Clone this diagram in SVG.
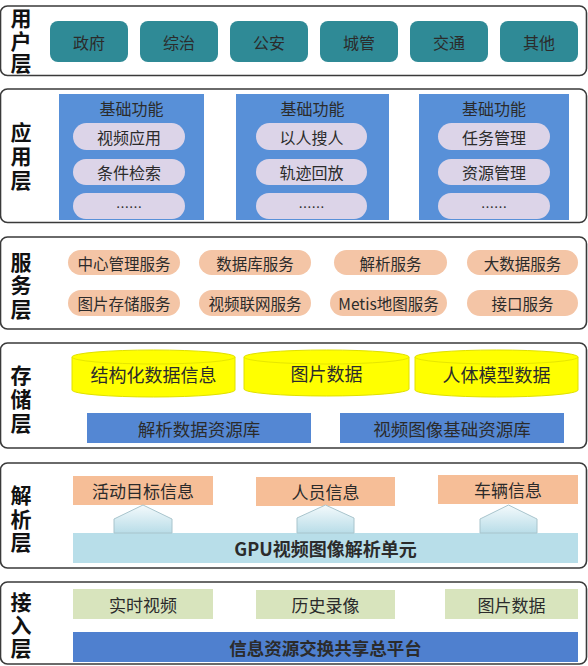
<svg xmlns="http://www.w3.org/2000/svg" width="588" height="666" viewBox="0 0 588 666">
<defs>
<linearGradient id="arr" x1="0" y1="0" x2="0" y2="1">
<stop offset="0" stop-color="#f4fafc"/>
<stop offset="1" stop-color="#b9dde8"/>
</linearGradient>
<style>
.layer{fill:#fff;stroke:#3a3a3a;stroke-width:1.6}
.lbl{font-family:"Noto Sans CJK SC","Noto Sans",sans-serif;font-size:21px;font-weight:bold;fill:#111;text-anchor:middle;writing-mode:vertical-rl}
.t{font-family:"Noto Sans CJK SC","Noto Sans",sans-serif;fill:#2b2b2b;text-anchor:middle;dominant-baseline:central}
.user{fill:#2f8a96}
.panel{fill:#5890d8}
.pill{fill:#dcd4e8}
.svc{fill:#f4c5a6}
.cyl{fill:#ffff00;stroke:#e0e000;stroke-width:1}
.sbar{fill:#5487d3}
.ana{fill:#f6be97}
.gpu{fill:#b8dee9}
.acc{fill:#d8e4bd}
.plat{fill:#4f80cf}
.arrow{fill:url(#arr);stroke:#a8c4cc;stroke-width:1}
</style>
</defs>

<g id="layer-user">
<rect class="layer" x="0.5" y="6" width="586" height="69.5" rx="7"/>
<text class="lbl" x="21" y="41.5" letter-spacing="1.5">用户层</text>
</g>
<g id="user-zhengfu"><rect class="user" x="50" y="21" width="78" height="41" rx="8"/><text class="t" x="89" y="41.5" font-size="16" fill="#1b3a40">政府</text></g>
<g id="user-zongzhi"><rect class="user" x="140" y="21" width="78" height="41" rx="8"/><text class="t" x="179" y="41.5" font-size="16" fill="#1b3a40">综治</text></g>
<g id="user-gongan"><rect class="user" x="230" y="21" width="78" height="41" rx="8"/><text class="t" x="269" y="41.5" font-size="16" fill="#1b3a40">公安</text></g>
<g id="user-chengguan"><rect class="user" x="320" y="21" width="78" height="41" rx="8"/><text class="t" x="359" y="41.5" font-size="16" fill="#1b3a40">城管</text></g>
<g id="user-jiaotong"><rect class="user" x="410" y="21" width="78" height="41" rx="8"/><text class="t" x="449" y="41.5" font-size="16" fill="#1b3a40">交通</text></g>
<g id="user-qita"><rect class="user" x="500" y="21" width="78" height="41" rx="8"/><text class="t" x="539" y="41.5" font-size="16" fill="#1b3a40">其他</text></g>

<g id="layer-app">
<rect class="layer" x="0.5" y="89" width="586" height="133.5" rx="7"/>
<text class="lbl" x="21" y="157.5" letter-spacing="3">应用层</text>
</g>
<g id="app-panel-1">
<rect class="panel" x="59" y="94" width="145" height="126"/>
<text class="t" x="131.5" y="108" font-size="16" fill="#1e2f4a">基础功能</text>
<rect class="pill" x="73" y="123" width="112" height="27" rx="13.5"/><text class="t" x="129" y="136.5" font-size="16">视频应用</text>
<rect class="pill" x="73" y="159" width="112" height="26" rx="13"/><text class="t" x="129" y="172" font-size="16">条件检索</text>
<rect class="pill" x="73" y="193" width="112" height="26" rx="13"/><text class="t" x="129" y="206" font-size="13">……</text>
</g>
<g id="app-panel-2">
<rect class="panel" x="236" y="94" width="153" height="126"/>
<text class="t" x="312.5" y="108" font-size="16" fill="#1e2f4a">基础功能</text>
<rect class="pill" x="256" y="123" width="111" height="27" rx="13.5"/><text class="t" x="311.5" y="136.5" font-size="16">以人搜人</text>
<rect class="pill" x="256" y="159" width="111" height="26" rx="13"/><text class="t" x="311.5" y="172" font-size="16">轨迹回放</text>
<rect class="pill" x="256" y="193" width="111" height="26" rx="13"/><text class="t" x="311.5" y="206" font-size="13">……</text>
</g>
<g id="app-panel-3">
<rect class="panel" x="419" y="94" width="150" height="126"/>
<text class="t" x="494" y="108" font-size="16" fill="#1e2f4a">基础功能</text>
<rect class="pill" x="438" y="123" width="112" height="27" rx="13.5"/><text class="t" x="494" y="136.5" font-size="16">任务管理</text>
<rect class="pill" x="438" y="159" width="112" height="26" rx="13"/><text class="t" x="494" y="172" font-size="16">资源管理</text>
<rect class="pill" x="438" y="193" width="112" height="26" rx="13"/><text class="t" x="494" y="206" font-size="13">……</text>
</g>

<g id="layer-service">
<rect class="layer" x="0.5" y="237" width="586" height="92" rx="7"/>
<text class="lbl" x="21" y="286.5" letter-spacing="2.5">服务层</text>
</g>
<g id="svc-center"><rect class="svc" x="68" y="250" width="112" height="25" rx="12.5"/><text class="t" x="124" y="262.5" font-size="15.5">中心管理服务</text></g>
<g id="svc-db"><rect class="svc" x="199" y="250" width="112" height="25" rx="12.5"/><text class="t" x="255" y="262.5" font-size="15.5">数据库服务</text></g>
<g id="svc-parse"><rect class="svc" x="334" y="250" width="113" height="25" rx="12.5"/><text class="t" x="390.5" y="262.5" font-size="15.5">解析服务</text></g>
<g id="svc-bigdata"><rect class="svc" x="467" y="250" width="111" height="25" rx="12.5"/><text class="t" x="522.5" y="262.5" font-size="15.5">大数据服务</text></g>
<g id="svc-pic"><rect class="svc" x="68" y="290" width="112" height="26" rx="13"/><text class="t" x="124" y="303" font-size="15.5">图片存储服务</text></g>
<g id="svc-video"><rect class="svc" x="199" y="290" width="112" height="26" rx="13"/><text class="t" x="255" y="303" font-size="15.5">视频联网服务</text></g>
<g id="svc-metis"><rect class="svc" x="330" y="290" width="117" height="26" rx="13"/><text class="t" x="388.5" y="303" font-size="15.5">Metis地图服务</text></g>
<g id="svc-api"><rect class="svc" x="467" y="290" width="111" height="26" rx="13"/><text class="t" x="522.5" y="303" font-size="15.5">接口服务</text></g>

<g id="layer-storage">
<rect class="layer" x="0.5" y="343" width="586" height="105" rx="7"/>
<text class="lbl" x="21" y="400.5" letter-spacing="3">存储层</text>
</g>
<g id="store-struct">
<path class="cyl" d="M72,357 A81.5,7 0 0 1 235,357 V390 A81.5,7 0 0 1 72,390 Z"/>
<path d="M72,357 A81.5,7 0 0 0 235,357" fill="none" stroke="#e6e600" stroke-width="1"/>
<text class="t" x="153.5" y="374" font-size="18">结构化数据信息</text>
</g>
<g id="store-pic">
<path class="cyl" d="M244,357 A82.5,7 0 0 1 409,357 V389 A82.5,7 0 0 1 244,389 Z"/>
<path d="M244,357 A82.5,7 0 0 0 409,357" fill="none" stroke="#e6e600" stroke-width="1"/>
<text class="t" x="326.5" y="373" font-size="18">图片数据</text>
</g>
<g id="store-body">
<path class="cyl" d="M415,357 A81.5,7 0 0 1 578,357 V390 A81.5,7 0 0 1 415,390 Z"/>
<path d="M415,357 A81.5,7 0 0 0 578,357" fill="none" stroke="#e6e600" stroke-width="1"/>
<text class="t" x="496.5" y="374" font-size="18">人体模型数据</text>
</g>
<g id="store-parse-db"><rect class="sbar" x="87" y="413" width="224" height="30"/><text class="t" x="199" y="428" font-size="17.5" fill="#1e2f4a">解析数据资源库</text></g>
<g id="store-video-db"><rect class="sbar" x="340" y="413" width="224" height="30"/><text class="t" x="452" y="428" font-size="17.5" fill="#1e2f4a">视频图像基础资源库</text></g>

<g id="layer-analysis">
<rect class="layer" x="0.5" y="463" width="586" height="105" rx="7"/>
<text class="lbl" x="21" y="520" letter-spacing="2.5">解析层</text>
</g>
<g id="ana-target"><rect class="ana" x="73" y="476" width="140" height="29"/><text class="t" x="143" y="490.5" font-size="17">活动目标信息</text></g>
<g id="ana-person"><rect class="ana" x="256" y="477" width="139" height="29"/><text class="t" x="325.5" y="491.5" font-size="17">人员信息</text></g>
<g id="ana-vehicle"><rect class="ana" x="438" y="475" width="140" height="29"/><text class="t" x="508" y="489.5" font-size="17">车辆信息</text></g>
<g id="ana-gpu"><rect class="gpu" x="73" y="533" width="505" height="30"/><text class="t" x="325.5" y="548" font-size="18" font-weight="bold" fill="#1c1c1c">GPU视频图像解析单元</text></g>

<g id="connectors">
<polygon class="arrow" points="114,533 114,519 143,505 172,519 172,533"/>
<polygon class="arrow" points="297,533 297,518 325.5,505 354,518 354,533"/>
<polygon class="arrow" points="480,533 480,519 508.5,505 537,519 537,533"/>
</g>

<g id="layer-access">
<rect class="layer" x="0.5" y="582" width="586" height="82" rx="7"/>
<text class="lbl" x="21" y="626" letter-spacing="2">接入层</text>
</g>
<g id="acc-live"><rect class="acc" x="73" y="589" width="140" height="30"/><text class="t" x="143" y="604" font-size="17">实时视频</text></g>
<g id="acc-history"><rect class="acc" x="256" y="590" width="139" height="29"/><text class="t" x="325.5" y="604.5" font-size="17">历史录像</text></g>
<g id="acc-pic"><rect class="acc" x="445" y="589" width="133" height="30"/><text class="t" x="511.5" y="604" font-size="17">图片数据</text></g>
<g id="acc-platform"><rect class="plat" x="73" y="632" width="505" height="30"/><text class="t" x="325.5" y="647" font-size="17.5" font-weight="bold" fill="#15213a">信息资源交换共享总平台</text></g>
</svg>
